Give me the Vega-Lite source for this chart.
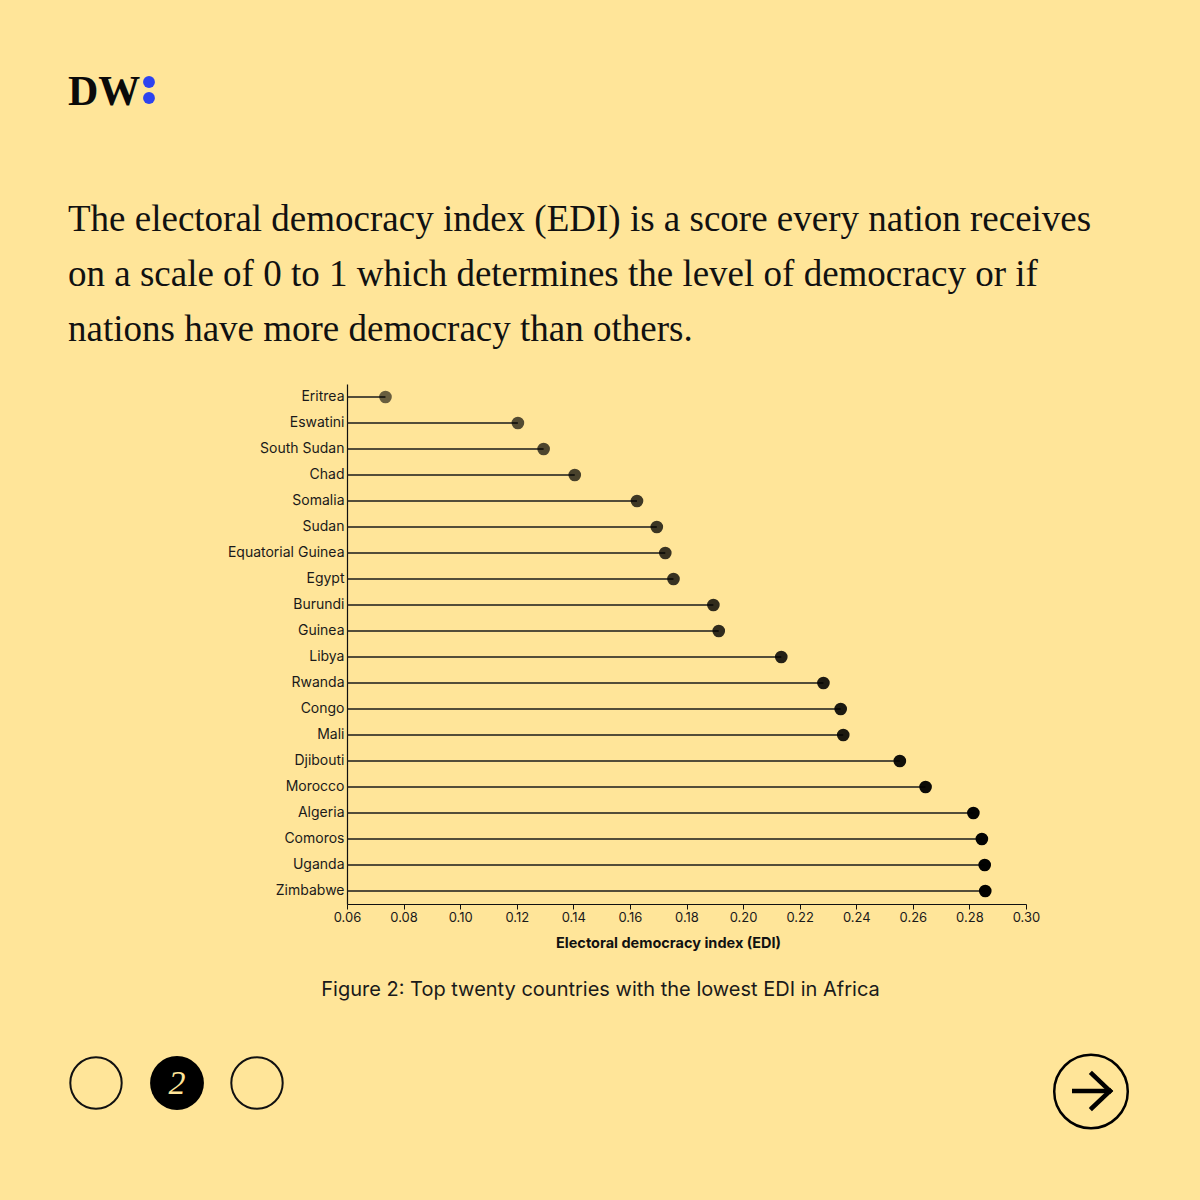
{
  "$schema": "https://vega.github.io/schema/vega-lite/v6.json",
  "autosize": {"type": "none"},
  "padding": {"left": 347, "top": 384, "right": 174, "bottom": 296},
  "width": 679,
  "height": 520,
  "background": "#ffe599",
  "config": {"view": {"stroke": null}},
  "title": {
    "text": "DW",
    "subtitle": [
      "The electoral democracy index (EDI) is a score every nation receives",
      "on a scale of 0 to 1 which determines the level of democracy or if",
      "nations have more democracy than others."
    ],
    "anchor": "start",
    "frame": "group",
    "dx": -279,
    "offset": -273,
    "font": "Liberation Serif",
    "fontSize": 42,
    "fontWeight": "bold",
    "color": "#0a0a0a",
    "subtitleFont": "Liberation Serif",
    "subtitleFontSize": 37,
    "subtitleFontWeight": "normal",
    "subtitleColor": "#111111",
    "subtitleLineHeight": 55,
    "subtitlePadding": 88
  },
  "data": {
    "values": [
      {"country": "Eritrea", "edi": 0.0736},
      {"country": "Eswatini", "edi": 0.1204},
      {"country": "South Sudan", "edi": 0.1295},
      {"country": "Chad", "edi": 0.1405},
      {"country": "Somalia", "edi": 0.1625},
      {"country": "Sudan", "edi": 0.1695},
      {"country": "Equatorial Guinea", "edi": 0.1725},
      {"country": "Egypt", "edi": 0.1754},
      {"country": "Burundi", "edi": 0.1895},
      {"country": "Guinea", "edi": 0.1914},
      {"country": "Libya", "edi": 0.2135},
      {"country": "Rwanda", "edi": 0.2284},
      {"country": "Congo", "edi": 0.2345},
      {"country": "Mali", "edi": 0.2354},
      {"country": "Djibouti", "edi": 0.2554},
      {"country": "Morocco", "edi": 0.2645},
      {"country": "Algeria", "edi": 0.2814},
      {"country": "Comoros", "edi": 0.2844},
      {"country": "Uganda", "edi": 0.2854},
      {"country": "Zimbabwe", "edi": 0.2856}
    ]
  },
  "resolve": {"axis": {"x": "independent"}},
  "layer": [
    {
      "mark": {"type": "rule", "color": "#1a1a1a", "strokeWidth": 1.3},
      "encoding": {
        "y": {
          "field": "country", "type": "nominal", "sort": null,
          "axis": {"title": null, "ticks": false, "domain": true, "domainColor": "#111111", "domainWidth": 1.2,
                   "labelFont": "Inter", "labelFontSize": 14, "labelColor": "#1a1a1a", "labelPadding": 3, "grid": false}
        },
        "x": {
          "field": "edi", "type": "quantitative",
          "scale": {"domain": [0.06, 0.30], "nice": false, "zero": false},
          "axis": {
            "values": [0.06, 0.08, 0.10, 0.12, 0.14, 0.16, 0.18, 0.20, 0.22, 0.24, 0.26, 0.28, 0.30],
            "format": ".2f", "grid": false, "labelFlush": false, "labelOverlap": false,
            "domainColor": "#111111", "domainWidth": 1.2, "tickColor": "#111111", "tickSize": 5, "tickWidth": 1,
            "labelFont": "Inter", "labelFontSize": 13, "labelColor": "#1a1a1a", "labelPadding": 2,
            "title": "Electoral democracy index (EDI)",
            "titleFont": "Inter", "titleFontSize": 14.5, "titleFontWeight": "bold", "titleColor": "#111111",
            "titleX": 321, "titleY": 43, "titleBaseline": "alphabetic"
          }
        },
        "x2": {"datum": 0.06}
      }
    },
    {
      "mark": {"type": "point", "filled": true, "size": 160, "color": "#000000"},
      "encoding": {
        "y": {"field": "country", "type": "nominal", "sort": null},
        "x": {
          "field": "edi", "type": "quantitative",
          "axis": {
            "orient": "top", "domain": false, "ticks": false, "labels": false, "grid": false,
            "title": "Figure 2: Top twenty countries with the lowest EDI in Africa",
            "titleFont": "Inter", "titleFontSize": 20, "titleFontWeight": "normal", "titleColor": "#1a1a1a",
            "titleX": 253, "titleY": 611, "titleBaseline": "alphabetic", "titleAlign": "center"
          }
        },
        "opacity": {
          "field": "edi", "type": "quantitative",
          "scale": {"domain": [0.07, 0.29], "range": [0.58, 1]},
          "legend": null
        }
      }
    },
    {
      "data": {"values": [{}]},
      "mark": {"type": "point", "filled": true, "size": 140, "color": "#2d43ef", "opacity": 1},
      "encoding": {"x": {"value": -198}, "y": {"value": -302}}
    },
    {
      "data": {"values": [{}]},
      "mark": {"type": "point", "filled": true, "size": 140, "color": "#2d43ef", "opacity": 1},
      "encoding": {"x": {"value": -198}, "y": {"value": -286}}
    },
    {
      "data": {"values": [{}]},
      "mark": {"type": "point", "filled": false, "size": 2642, "color": "#111111", "strokeWidth": 2, "opacity": 1},
      "encoding": {"x": {"value": -251}, "y": {"value": 699}}
    },
    {
      "data": {"values": [{}]},
      "mark": {"type": "point", "filled": true, "size": 2900, "color": "#000000", "opacity": 1},
      "encoding": {"x": {"value": -170}, "y": {"value": 699}}
    },
    {
      "data": {"values": [{}]},
      "mark": {"type": "point", "filled": false, "size": 2642, "color": "#111111", "strokeWidth": 2, "opacity": 1},
      "encoding": {"x": {"value": -90}, "y": {"value": 699}}
    },
    {
      "data": {"values": [{"label": "2"}]},
      "mark": {"type": "text", "font": "Liberation Serif", "fontStyle": "italic", "fontSize": 34, "color": "#ffe599", "align": "center", "baseline": "middle"},
      "encoding": {"text": {"field": "label"}, "x": {"value": -170}, "y": {"value": 700}}
    },
    {
      "data": {"values": [{}]},
      "mark": {"type": "point", "filled": false, "size": 5411, "color": "#000000", "strokeWidth": 2.5, "opacity": 1},
      "encoding": {"x": {"value": 744}, "y": {"value": 707.5}}
    },
    {
      "data": {"values": [{}]},
      "mark": {"type": "rule", "color": "#000000", "strokeWidth": 4.5},
      "encoding": {"x": {"value": 725}, "x2": {"value": 762}, "y": {"value": 707}, "y2": {"value": 707}}
    },
    {
      "data": {"values": [{}]},
      "mark": {"type": "rule", "color": "#000000", "strokeWidth": 4.5, "strokeCap": "square"},
      "encoding": {"x": {"value": 745}, "x2": {"value": 763}, "y": {"value": 690}, "y2": {"value": 707}}
    },
    {
      "data": {"values": [{}]},
      "mark": {"type": "rule", "color": "#000000", "strokeWidth": 4.5, "strokeCap": "square"},
      "encoding": {"x": {"value": 745}, "x2": {"value": 763}, "y": {"value": 724}, "y2": {"value": 707}}
    }
  ]
}
